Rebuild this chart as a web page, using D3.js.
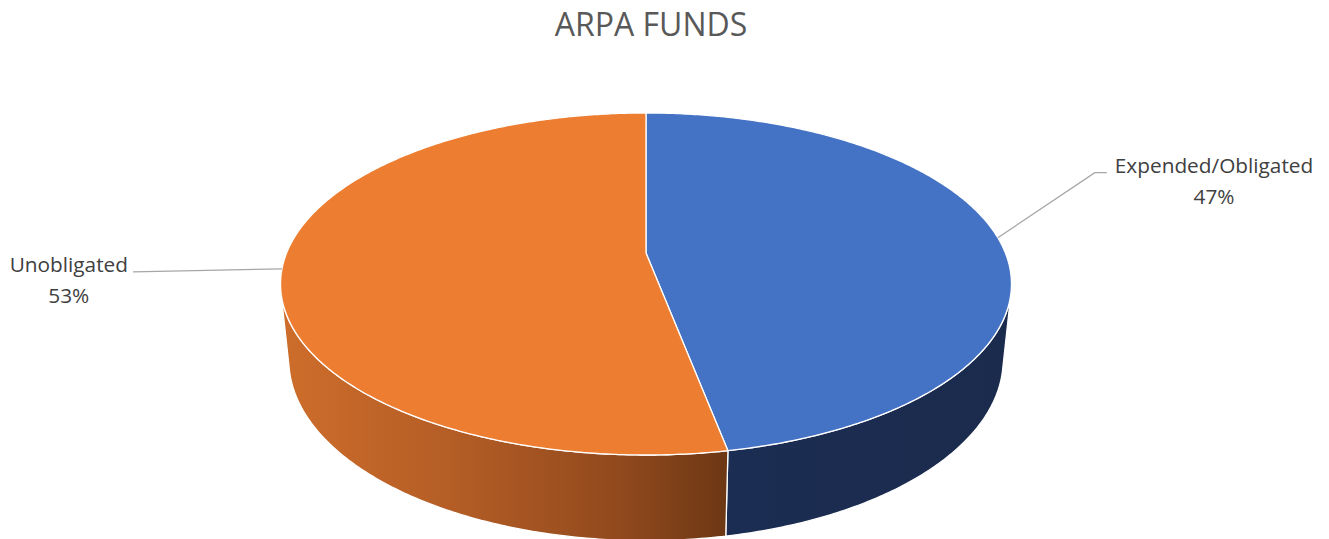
<!DOCTYPE html>
<html>
<head>
<meta charset="utf-8">
<script src="https://cdn.jsdelivr.net/npm/d3@7"></script>
<style>
  body { margin: 0; background: #fff; }
  text { font-family: "Open Sans", sans-serif; fill: #595959; }
</style>
</head>
<body>
<svg width="1329" height="539"></svg>
<script>
var title = "ARPA FUNDS"
var categories = ["Expended/Obligated", "Unobligated"]
var shares = [47, 53]
var topColors = ["#4472C4", "#ED7D31"]

var svg = d3.select("svg")

// camera for the tilted disc (top face at z = 0, bottom at z = -depth)
var cx = 646, cy = 253, focal = 1760, dist = 4.897
var sinE = 0.4602, cosE = Math.sqrt(1 - sinE * sinE), depth = 0.24

function project(X, Y, Z) {
  var yc = (Y + dist * cosE) * sinE + (Z - dist * sinE) * cosE
  var zc = (Y + dist * cosE) * cosE - (Z - dist * sinE) * sinE
  return [cx + focal * X / zc, cy - focal * yc / zc]
}
function rim(t, Z) { return project(Math.sin(t), Math.cos(t), Z) }
function arcPts(a0, a1, Z) {
  var n = Math.max(2, Math.ceil((a1 - a0) / 0.01))
  return d3.range(n + 1).map(i => rim(a0 + (a1 - a0) * i / n, Z))
}

var pie = d3.pie().sort(null).value(d => d)
var slices = pie(shares)
var line = d3.line()

// wall faces the camera only on this angle range
var edge = Math.asin(1 / (dist * cosE))
var vis0 = Math.PI / 2 + edge, vis1 = 3 * Math.PI / 2 - edge

var defs = svg.append("defs")
var og = defs.append("linearGradient").attr("id", "wall1")
  .attr("gradientUnits", "userSpaceOnUse")
  .attr("x1", 285).attr("x2", 732).attr("y1", 0).attr("y2", 0)
og.append("stop").attr("offset", 0).attr("stop-color", "#CD6D2B")
og.append("stop").attr("offset", 0.4).attr("stop-color", "#B25C25")
og.append("stop").attr("offset", 0.75).attr("stop-color", "#91491D")
og.append("stop").attr("offset", 1).attr("stop-color", "#6B3714")
var bg = defs.append("linearGradient").attr("id", "wall0")
  .attr("gradientUnits", "userSpaceOnUse")
  .attr("x1", 732).attr("x2", 1010).attr("y1", 0).attr("y2", 0)
bg.append("stop").attr("offset", 0).attr("stop-color", "#1C2D53")
bg.append("stop").attr("offset", 1).attr("stop-color", "#1A2B4D")

// side walls
svg.append("g").selectAll("path")
  .data(slices.map((s, i) => ({ s: s, i: i, a0: Math.max(s.startAngle, vis0), a1: Math.min(s.endAngle, vis1) }))
    .filter(d => d.a1 > d.a0))
  .join("path")
  .attr("d", d => line(arcPts(d.a0, d.a1, 0).concat(arcPts(d.a0, d.a1, -depth).reverse())) + "Z")
  .attr("fill", d => "url(#wall" + d.i + ")")
  .attr("stroke", "#fff")
  .attr("stroke-width", 1.3)
  .attr("stroke-linejoin", "round")

// top faces
svg.append("g").selectAll("path")
  .data(slices)
  .join("path")
  .attr("d", d => line([project(0, 0, 0)].concat(arcPts(d.startAngle, d.endAngle, 0))) + "Z")
  .attr("fill", (d, i) => topColors[i])
  .attr("stroke", "#fff")
  .attr("stroke-width", 1.3)
  .attr("stroke-linejoin", "round")

svg.append("text")
  .attr("x", 651).attr("y", 36)
  .attr("text-anchor", "middle")
  .style("font-size", "32px")
  .text(title)

// data labels with leader lines
slices.forEach((s, i) => {
  var mid = (s.startAngle + s.endAngle) / 2
  var a = rim(mid, 0)
  var right = Math.sin(mid) > 0
  var pts = right
    ? [a, [a[0] + 97, a[1] - 65], [a[0] + 109, a[1] - 65]]
    : [a, [a[0] - 149, a[1] + 3]]
  var end = pts[pts.length - 1]

  svg.append("path")
    .attr("d", line(pts))
    .attr("fill", "none")
    .attr("stroke", "#A6A6A6")
    .attr("stroke-width", 1.3)

  var g = svg.append("g")
  var t1 = g.append("text").attr("y", end[1]).style("font-size", "20.8px")
    .style("fill", "#404040")
    .attr("text-anchor", "middle").text(categories[i])
  var w = t1.node().getComputedTextLength()
  var center = right ? end[0] + 8 + w / 2 : end[0] - 5 - w / 2
  t1.attr("x", center)
  g.append("text").attr("x", center).attr("y", end[1] + 31)
    .attr("text-anchor", "middle").style("font-size", "20.8px")
    .style("fill", "#404040")
    .text(d3.format(".0%")(s.value / d3.sum(shares)))
})
</script>
</body>
</html>
